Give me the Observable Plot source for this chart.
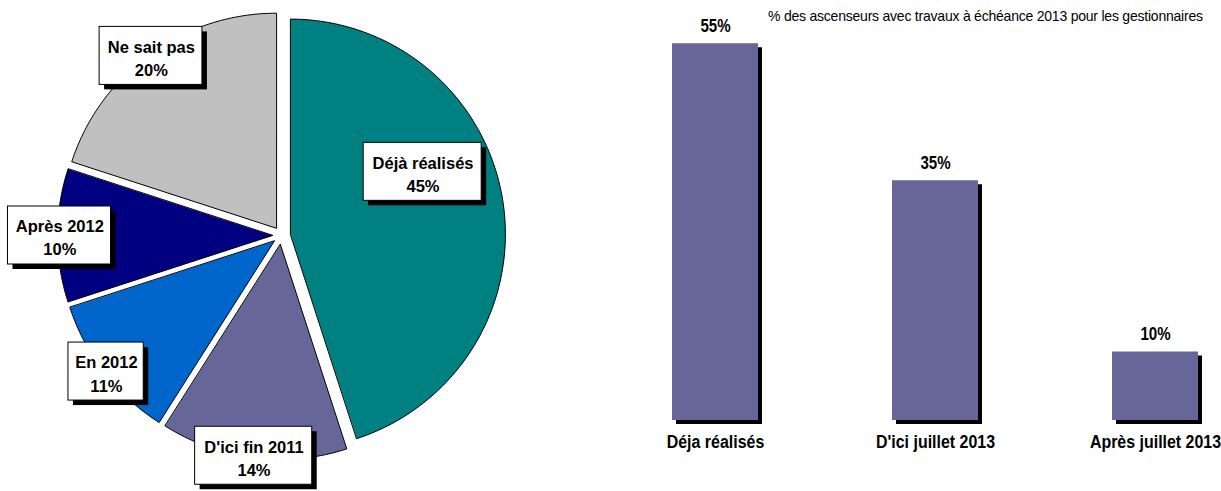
<!DOCTYPE html>
<html>
<head>
<meta charset="utf-8">
<script src="https://cdn.jsdelivr.net/npm/d3@7"></script>
<script src="https://cdn.jsdelivr.net/npm/@observablehq/plot@0.6"></script>
<style>
  html, body { margin: 0; padding: 0; background: #fff; }
  #page { position: relative; width: 1221px; height: 491px; overflow: hidden; }
  #pie { position: absolute; left: 0; top: 0; }
  #bars { position: absolute; left: 560px; top: 0; }
  #title {
    position: absolute; left: 768px; top: 7px; white-space: nowrap;
    font-family: "Liberation Sans", Arial, sans-serif;
    font-size: 15px; color: #000; letter-spacing: -0.25px;
    transform: scaleX(0.935); transform-origin: left top;
  }
</style>
</head>
<body>
<div id="page">
  <div id="pie"></div>
  <div id="bars"></div>
  <div id="title">% des ascenseurs avec travaux à échéance 2013 pour les gestionnaires</div>
</div>
<script>
// Calendrier des travaux (camembert)
const categories = ["Déjà réalisés", "D'ici fin 2011", "En 2012", "Après 2012", "Ne sait pas"];
const shares = [45, 14, 11, 10, 20];
const sliceColors = ["#008080", "#666699", "#0066CC", "#000080", "#C0C0C0"];

// Échéance 2013 (histogramme)
const barCategories = ["Déja réalisés", "D'ici juillet 2013", "Après juillet 2013"];
const barValues = [55, 35, 10];

const SANS = "'Liberation Sans', Arial, sans-serif";

// ---- Pie: one unit = one pixel, centre at the origin ----
const R = 215;        // radius
const EXPLODE = 9;    // every slice pulled out along its bisector

const arcs = d3.pie().sort(null).value(d => d)(shares);
const slices = arcs.map((a, i) => ({
  category: categories[i],
  share: shares[i],
  a0: a.startAngle,
  a1: a.endAngle,
  mid: (a.startAngle + a.endAngle) / 2
}));

// Closed outline of each slice (angles clockwise from 12 o'clock)
const outline = slices.flatMap(s => {
  const ox = EXPLODE * Math.sin(s.mid), oy = EXPLODE * Math.cos(s.mid);
  const n = Math.max(2, Math.ceil((s.a1 - s.a0) / (Math.PI / 180)));
  const pts = [{category: s.category, x: ox, y: oy}];
  for (let k = 0; k <= n; k++) {
    const t = s.a0 + (s.a1 - s.a0) * k / n;
    pts.push({category: s.category, x: ox + R * Math.sin(t), y: oy + R * Math.cos(t)});
  }
  return pts;
});

// Label boxes: large slices get their label inside, the others sit on the rim
const ctx = document.createElement("canvas").getContext("2d");
const LABEL_SIZE = 16.5;
const LABEL_SPACING = 0.7;
ctx.font = `bold ${LABEL_SIZE}px 'Liberation Sans', Arial, sans-serif`;
const BOX_H = 58;
const labels = slices.map(s => {
  const big = s.share > 25;
  const angle = big ? s.a0 + 0.4 * (s.a1 - s.a0) : s.mid;
  const rho = big ? 0.68 * R : R + EXPLODE - 2;
  const ox = EXPLODE * Math.sin(s.mid), oy = EXPLODE * Math.cos(s.mid);
  const lines = [s.category, `${s.share}%`];
  const w = Math.max(...lines.map(l => ctx.measureText(l).width + l.length * LABEL_SPACING)) + 8;
  return {
    ...s,
    text: lines.join("\n"),
    x: (big ? ox : 0) + rho * Math.sin(angle),
    y: (big ? oy : 0) + rho * Math.cos(angle),
    w
  };
});

const box = {
  x1: d => d.x - d.w / 2, x2: d => d.x + d.w / 2,
  y1: d => d.y - BOX_H / 2, y2: d => d.y + BOX_H / 2
};

const pie = Plot.plot({
  width: 560,
  height: 491,
  margin: 0,
  x: {domain: [-281, 279], axis: null},
  y: {domain: [-256, 235], axis: null},
  color: {domain: categories, range: sliceColors},
  style: {fontFamily: SANS, background: "white"},
  marks: [
    Plot.line(outline, {x: "x", y: "y", z: "category", fill: "category", stroke: "black", strokeWidth: 1, curve: "linear-closed"}),
    Plot.rect(labels, {...box, fill: "black", dx: 5, dy: 5}),
    Plot.rect(labels, {...box, fill: "white", stroke: "black", strokeWidth: 1}),
    Plot.text(labels, {x: "x", y: "y", dx: LABEL_SPACING / 2, dy: 1, text: "text", fontSize: LABEL_SIZE, fontWeight: "bold", lineHeight: 1.4, fill: "black", style: {letterSpacing: `${LABEL_SPACING}px`}})
  ]
});
document.getElementById("pie").append(pie);

// ---- Bars with a drop shadow ----
const barData = barCategories.map((c, i) => ({category: c, value: barValues[i]}));

const bars = Plot.plot({
  width: 661,
  height: 491,
  marginLeft: 112,
  marginRight: 23,
  marginTop: 9,
  marginBottom: 71,
  x: {domain: barCategories, paddingInner: 0.61, paddingOuter: 0, label: null},
  y: {domain: [0, 60], axis: null},
  style: {fontFamily: SANS, background: "transparent"},
  marks: [
    Plot.barY(barData, {x: "category", y: "value", fill: "black", dx: 4, dy: 4}),
    Plot.barY(barData, {x: "category", y: "value", fill: "#666699"}),
    Plot.text(barData, {x: "category", y: "value", text: d => `${d.value}%`, dy: -18, fontSize: 18, fontWeight: "bold", fill: "black"}),
    Plot.axisX({tickSize: 0, tickPadding: 14, fontSize: 19, fontWeight: "bold", label: null, fill: "black"})
  ]
});
document.getElementById("bars").append(bars);

// Condensed lettering for the bar chart: squeeze each text horizontally about its anchor
bars.querySelectorAll("text").forEach(t => {
  const tr = t.getAttribute("transform");
  if (tr) t.setAttribute("transform", `${tr} scale(0.84,1)`);
});
</script>
</body>
</html>
